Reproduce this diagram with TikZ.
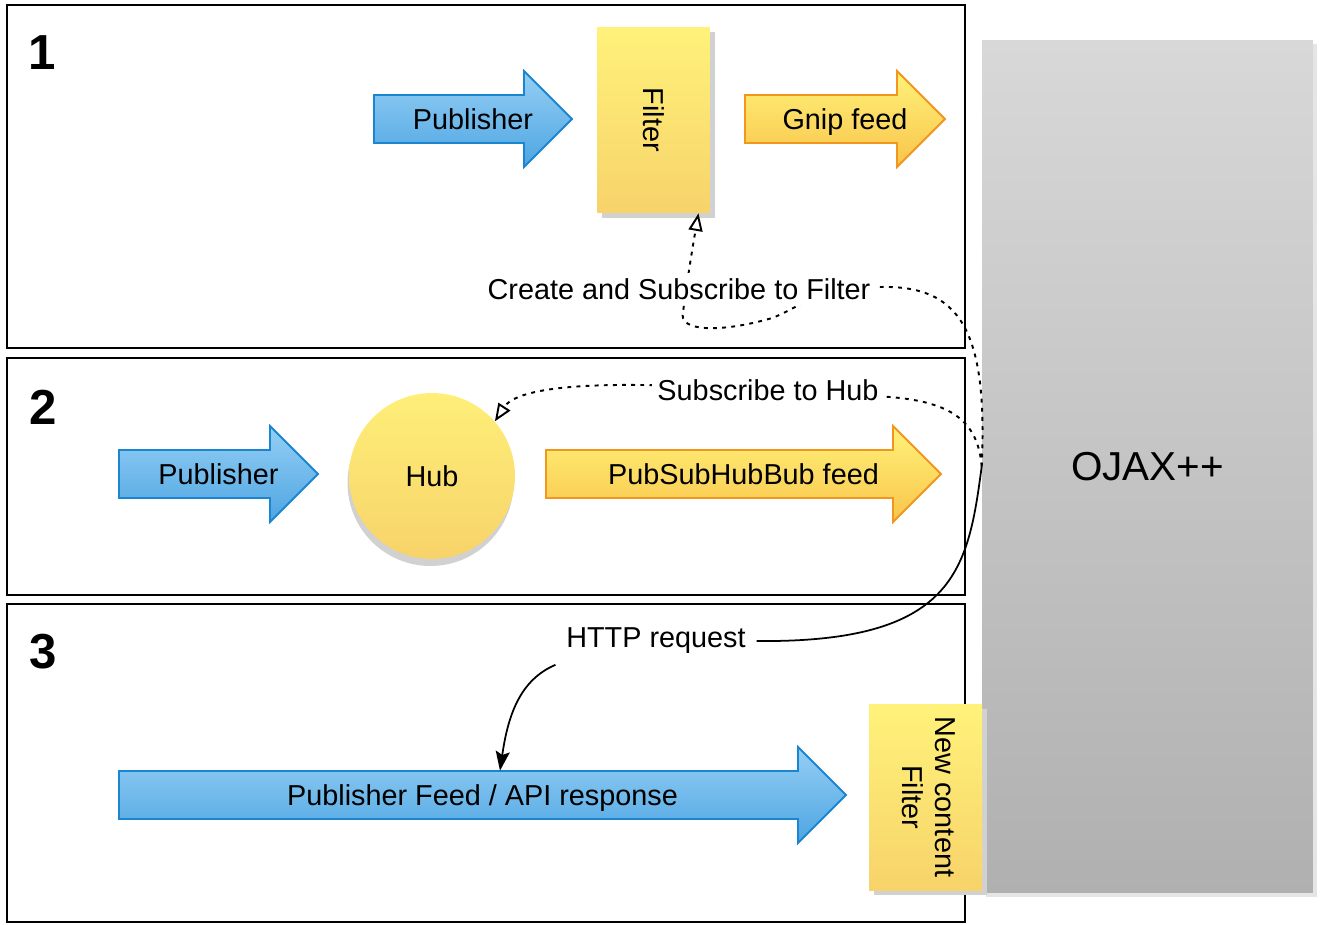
\documentclass[tikz,border=0pt]{standalone}
\usepackage{fontspec}
\setmainfont{Liberation Sans}
\usepackage{tikz}
\usetikzlibrary{positioning,fit,calc}
\usetikzlibrary{arrows.meta}
\usetikzlibrary{shadows}

\definecolor{bluefill}{HTML}{4DA5E2}
\definecolor{bluetop}{HTML}{95CFF5}
\definecolor{blueline}{HTML}{1B86CF}
\definecolor{yellowtop}{HTML}{FFF27A}
\definecolor{yellowbot}{HTML}{F7D36A}
\definecolor{orangeline}{HTML}{F2961E}
\definecolor{orangebot}{HTML}{F9C44A}
\definecolor{greytop}{HTML}{D8D8D8}
\definecolor{greybot}{HTML}{B0B0B0}

% block arrow: style, name, left x, right x, centre y, text
\newcommand{\blockarrow}[6]{%
  \path[#1] (#3,#5-24) -- (#4-48,#5-24) -- (#4-48,#5-48) -- (#4,#5)
    -- (#4-48,#5+48) -- (#4-48,#5+24) -- (#3,#5+24) -- cycle;
  \node (#2) [arrowtext] at ({(#3+#4)/2},#5) {#6};
}

\tikzset{
  txt/.style={font=\fontsize{16.4}{19}\selectfont},
  panel/.style={draw, line width=1.3pt},
  num/.style={font=\fontsize{28}{30}\selectfont\bfseries},
  bluearrow/.style={draw=blueline, line width=1.1pt, top color=bluetop, bottom color=bluefill},
  orangearrow/.style={draw=orangeline, line width=1.1pt, top color=yellowtop, bottom color=orangebot},
  arrowtext/.style={txt, inner sep=0pt, text height=11.8pt, text depth=0pt, minimum height=0.96cm},
  yellowbox/.style={top color=yellowtop, bottom color=yellowbot, txt,
    drop shadow={fill=black!18, opacity=1, shadow xshift=0.1cm, shadow yshift=-0.1cm}},
  hubnode/.style={circle, top color=yellowtop!90!yellowbot, bottom color=yellowbot, txt,
    minimum size=3.32cm, inner sep=0pt,
    drop shadow={fill=black!18, opacity=1, shadow xshift=-0.03cm, shadow yshift=-0.14cm}},
  ojaxbox/.style={top color=greytop, bottom color=greybot, inner sep=0pt,
    font=\fontsize{23}{26}\selectfont,
    drop shadow={fill=black!10, opacity=1, shadow xshift=0.08cm, shadow yshift=-0.08cm}},
  note/.style={txt, fill=white, inner sep=3pt},
  dotline/.style={line width=1.1pt, dash pattern=on 2.2pt off 3pt, -{Triangle[open, length=10pt, width=8pt]}},
  httpline/.style={line width=1pt},
}

\begin{document}
\begin{tikzpicture}[x=0.02cm, y=-0.02cm]
  \useasboundingbox (0,0) rectangle (1321,924);

  % the three cases
  \draw[panel] (7,5) rectangle (965,348);
  \draw[panel] (7,358) rectangle (965,595);
  \draw[panel] (7,604) rectangle (965,922);
  \node (num1) [num] at (42,53) {1};
  \node (num2) [num] at (43,407) {2};
  \node (num3) [num] at (43,652) {3};

  % OJAX++ itself
  \node (ojax) [ojaxbox, minimum width=6.62cm, minimum height=17.06cm] at (1147.5,466.5) {OJAX++};

  % case 1
  \blockarrow{bluearrow}{pub1}{374}{572}{119}{Publisher}
  \node (filter) [yellowbox, minimum width=2.26cm, minimum height=3.72cm] at (653.5,120) {\rotatebox{-90}{Filter}};
  \blockarrow{orangearrow}{gnip}{745}{945}{119}{Gnip feed}

  % case 2
  \blockarrow{bluearrow}{pub2}{119}{318}{474}{Publisher}
  \node (hub) [hubnode] at (432,476) {Hub};
  \blockarrow{orangearrow}{pshb}{546}{941}{474}{PubSubHubBub feed}

  % case 3
  \blockarrow{bluearrow}{pubfeed}{119}{846}{795}{Publisher Feed / API response}
  \node (newfilter) [yellowbox, minimum width=2.26cm, minimum height=3.72cm] at (925.5,797)
    {\rotatebox{-90}{\begin{tabular}{@{}c@{}}New content\\Filter\end{tabular}}};

  % connectors from OJAX++
  \draw[dotline] (ojax.west) .. controls (988,330) and (960,285) .. (880,287)
    .. controls (810,287) and (795,313) .. (765,320)
    .. controls (720,332) and (678,332) .. (683,312)
    .. controls (686,290) and (690,262) .. ([xshift=0.9cm]filter.south);
  \draw[dotline] (ojax.west) .. controls (978,420) and (950,402) .. (890,397)
    .. controls (800,390) and (700,385) .. (640,385)
    .. controls (545,384) and (512,395) .. (hub.41);
  \node (createlbl) [note] at (679,289) {Create and Subscribe to Filter};
  \node (hublbl) [note] at (768,390) {Subscribe to Hub};
  \node (httplbl) [txt, inner sep=6pt] at (656,641) {HTTP request};
  \draw[httpline] (ojax.west) .. controls (968,570) and (955,643) .. (httplbl.east);
  \draw[httpline, -{Stealth[length=11pt, width=8pt, inset=2pt]}] (httplbl.south west)
    .. controls (520,680) and (508,715) .. ([xshift=0.35cm]pubfeed.north);
\end{tikzpicture}
\end{document}
